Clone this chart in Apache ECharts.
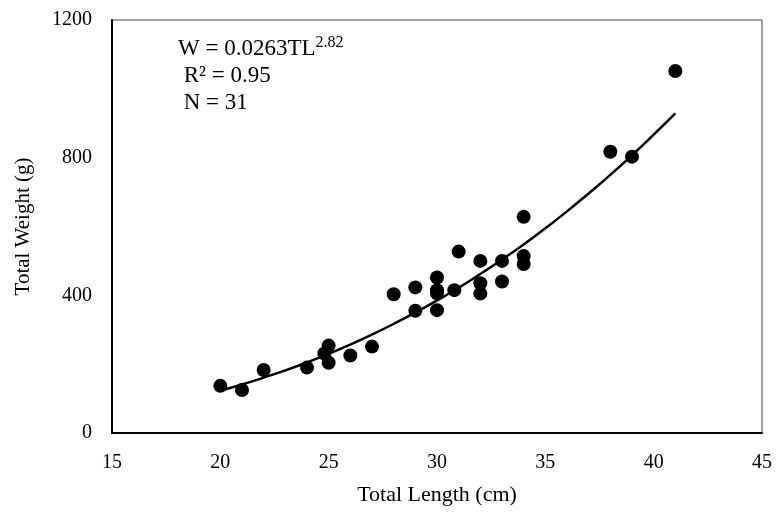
<!DOCTYPE html>
<html><head><meta charset="utf-8">
<script src="https://cdn.jsdelivr.net/npm/echarts@6/dist/echarts.min.js"></script>
<style>html,body{margin:0;padding:0;background:#fff}#c{width:778px;height:513px}</style>
</head><body><div id="c"></div>
<script>
// Observed data points (Total Length cm, Total Weight g)
const lengths = [20, 21, 22, 24, 24.8, 25, 25, 26, 27, 28, 29, 29, 30, 30, 30, 30, 30.8, 31, 32, 32, 32, 33, 33, 34, 34, 34, 38, 39, 41];
const weights = [137, 125, 183, 190, 231, 254, 204, 225, 251, 403, 423, 355, 452, 415, 406, 357, 415, 527, 500, 435, 405, 500, 440, 628, 514, 491, 817, 803, 1052];
// Trend curve
const curveX = [20, 21, 22, 23, 24, 25, 26, 27, 28, 29, 30, 31, 32, 33, 34, 35, 36, 37, 38, 39, 40, 41];
const curveY = [123, 141, 161, 182, 205, 230, 257, 286, 317, 350, 385, 422, 462, 504, 548, 595, 644, 696, 750, 807, 867, 929];
const xTicks = [15, 20, 25, 30, 35, 40, 45];
const yTicks = [0, 400, 800, 1200];

const font = 'Liberation Serif';
const chart = echarts.init(document.getElementById('c'));
chart.setOption({
  animation: false,
  backgroundColor: '#fff',
  grid: {left: 112, right: 16, top: 20, bottom: 80, show: true, borderColor: '#444', borderWidth: 1},
  xAxis: {
    type: 'value', min: xTicks[0], max: xTicks[xTicks.length - 1], interval: 5,
    axisLine: {show: true, onZero: false, lineStyle: {color: '#000', width: 2}},
    axisTick: {show: false}, splitLine: {show: false},
    axisLabel: {color: '#000', fontFamily: font, fontSize: 20, margin: 20, formatter: v => String(v)},
    name: 'Total Length (cm)', nameLocation: 'middle', nameGap: 51,
    nameTextStyle: {color: '#000', fontFamily: font, fontSize: 22}
  },
  yAxis: {
    type: 'value', min: yTicks[0], max: yTicks[yTicks.length - 1], interval: 400,
    axisLine: {show: true, onZero: false, lineStyle: {color: '#000', width: 2}},
    axisTick: {show: false}, splitLine: {show: false},
    axisLabel: {color: '#000', fontFamily: font, fontSize: 20, margin: 20, formatter: v => String(v)},
    name: 'Total Weight (g)', nameLocation: 'middle', nameGap: 78,
    nameTextStyle: {color: '#000', fontFamily: font, fontSize: 21}
  },
  graphic: [{
    type: 'text', left: 178, top: 35,
    style: {
      rich: {
        m: {fontFamily: font, fontSize: 23, fill: '#000', lineHeight: 27},
        s: {fontFamily: font, fontSize: 16, fill: '#000', verticalAlign: 'top', lineHeight: 27, padding: [0, 0, 9, 0]}
      },
      text: '{m|W = 0.0263TL}{s|2.82}\n{m| R² = 0.95}\n{m| N = 31}'
    }
  }],
  series: [{
    type: 'line', data: curveX.map((x, i) => [x, curveY[i]]), smooth: true,
    showSymbol: false, lineStyle: {color: '#000', width: 2.5}, z: 2
  }, {
    type: 'scatter', data: lengths.map((x, i) => [x, weights[i]]),
    symbolSize: 14, itemStyle: {color: '#000', opacity: 1}, z: 3
  }]
});
</script></body></html>
